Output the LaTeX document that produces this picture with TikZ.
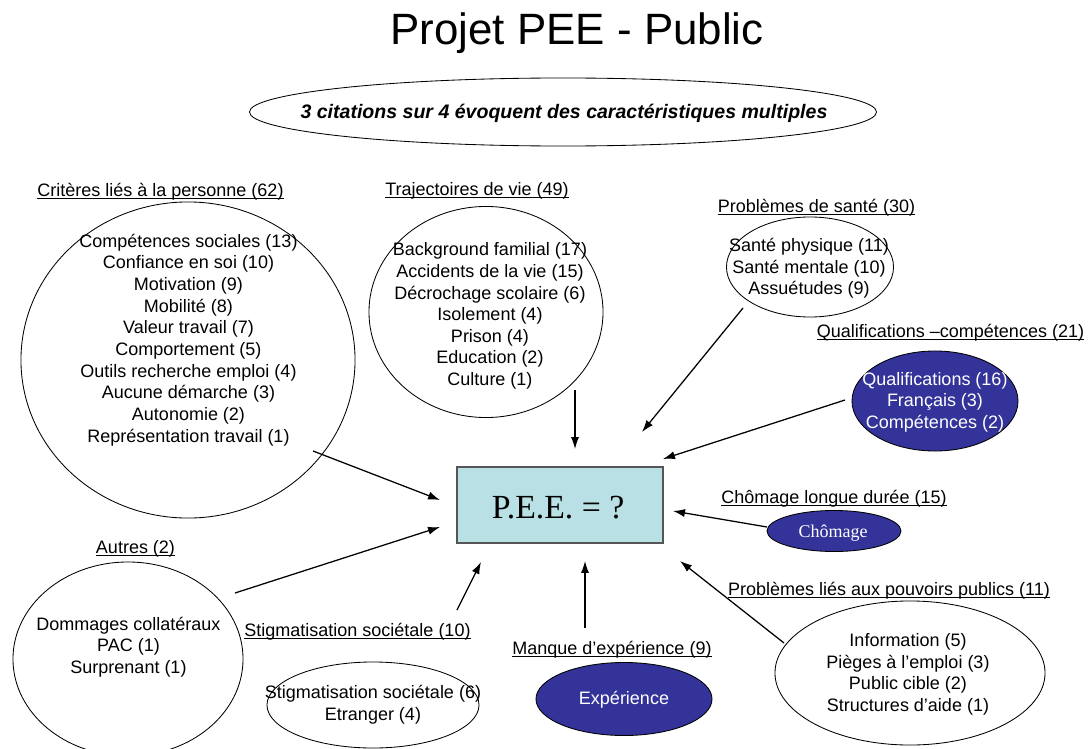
\documentclass[tikz,border=0pt]{standalone}
\usepackage{fontspec}
\setmainfont{Liberation Sans}
\newfontfamily\timesfont{Liberation Serif}
\usetikzlibrary{arrows.meta,shapes.geometric}

\definecolor{peeblue}{HTML}{333399}
\definecolor{peecyan}{HTML}{B9E0E4}
\definecolor{peegray}{HTML}{555555}

\newlength\ulwd
\newcommand\ulined[1]{\settowidth{\ulwd}{#1}\rlap{\rule[-2.3pt]{\ulwd}{0.9pt}}#1}

\begin{document}
\begin{tikzpicture}[x=0.025cm,y=-0.025cm,
  bubble/.style={draw,ellipse,line width=0.6pt,inner sep=0pt},
  darkbubble/.style={bubble,fill=peeblue},
  items/.style={align=center,inner sep=0pt,font=\fontsize{12.8}{15.4}\selectfont},
  heading/.style={anchor=base,inner sep=0pt,font=\fontsize{12.8}{15.4}\selectfont},
  arr/.style={-{Latex[length=8.5pt,width=5.8pt]},line width=0.9pt}]

\useasboundingbox (0,0) rectangle (1092,749);

%% title
\node[anchor=base,inner sep=0pt,font=\fontsize{31.2}{36}\selectfont] (title) at (577,45) {Projet PEE - Public};
\node[bubble,minimum width=15.675cm,minimum height=1.7cm] (summary) at (563,112) {};
\node[anchor=base,inner sep=0pt,font=\fontsize{13.9}{16}\selectfont\bfseries\itshape] (summarytext) at (564,118)
  {3 citations sur 4 évoquent des caractéristiques multiples};

%% centre
\node[draw=peegray,line width=1.2pt,fill=peecyan,minimum width=5.15cm,minimum height=1.9cm,inner sep=0pt] (pee) at (560,505) {};
\node[anchor=base,inner sep=0pt,font=\timesfont\fontsize{24}{28}\selectfont] (peetext) at (558,518) {P.E.E. = ?};

%% bubbles
\node[bubble,minimum width=8.35cm,minimum height=7.9cm] (crit) at (188,360) {};
\node[bubble,minimum width=5.85cm,minimum height=5.275cm] (traj) at (486,312) {};
\node[bubble,minimum width=4.175cm,minimum height=2.5cm] (sante) at (810,267) {};
\node[darkbubble,minimum width=4.15cm,minimum height=2.5cm] (qualif) at (935,401) {};
\node[darkbubble,minimum width=3.35cm,minimum height=1.025cm] (chom) at (834,531) {};
\node[bubble,minimum width=6.75cm,minimum height=3.6cm] (pouv) at (910,673) {};
\node[darkbubble,minimum width=4.4cm,minimum height=1.825cm] (exper) at (624,699) {};
\node[bubble,minimum width=5.3cm,minimum height=2.15cm] (stig) at (373,705) {};
\node[bubble,minimum width=5.75cm,minimum height=4.85cm] (autres) at (128,659) {};

%% lists
\node[items] (critlist) at (188.5,340) {Compétences sociales (13)\\Confiance en soi (10)\\Motivation (9)\\Mobilité (8)\\Valeur travail (7)\\Comportement (5)\\Outils recherche emploi (4)\\Aucune démarche (3)\\Autonomie (2)\\Représentation travail (1)};
\node[items] (trajlist) at (490,316) {Background familial (17)\\Accidents de la vie (15)\\Décrochage scolaire (6)\\Isolement (4)\\Prison (4)\\Education (2)\\Culture (1)};
\node[items] (santelist) at (809,268.5) {Santé physique (11)\\Santé mentale (10)\\Assuétudes (9)};
\node[items,text=white] (qualiflist) at (935,402) {Qualifications (16)\\Français (3)\\Compétences (2)};
\node[anchor=base,inner sep=0pt,text=white,font=\timesfont\fontsize{12.8}{15.4}\selectfont] (chomtext) at (833,537) {Chômage};
\node[items] (pouvlist) at (908,674.5) {Information (5)\\Pièges à l’emploi (3)\\Public cible (2)\\Structures d’aide (1)};
\node[items,text=white] (expertext) at (624,700) {Expérience};
\node[items] (stiglist) at (373,705) {Stigmatisation sociétale (6)\\Etranger (4)};
\node[items] (autreslist) at (128.5,647) {Dommages collatéraux\\PAC (1)\\Surprenant (1)};

%% headings
\node[heading] (critlab) at (160.5,196) {\ulined{Critères liés à la personne (62)}};
\node[heading] (trajlab) at (477,195) {\ulined{Trajectoires de vie (49)}};
\node[heading] (santelab) at (816.5,212) {\ulined{Problèmes de santé (30)}};
\node[heading] (qualiflab) at (950.5,337) {\ulined{Qualifications –compétences (21)}};
\node[heading] (chomlab) at (834,503) {\ulined{Chômage longue durée (15)}};
\node[heading] (pouvlab) at (889,595) {\ulined{Problèmes liés aux pouvoirs publics (11)}};
\node[heading] (experlab) at (612,654) {\ulined{Manque d’expérience (9)}};
\node[heading] (autreslab) at (135.5,553) {\ulined{Autres (2)}};
\node[heading] (stiglab) at (357.5,636) {\ulined{Stigmatisation sociétale (10)}};

%% arrow ends
\coordinate (critfrom) at (313,451);   \coordinate (critto) at (440,500);
\coordinate (trajfrom) at (575,390);   \coordinate (trajto) at (575,449);
\coordinate (santefrom) at (743,308);  \coordinate (santeto) at (642,432);
\coordinate (qualiffrom) at (845,400); \coordinate (qualifto) at (663,459);
\coordinate (chomfrom) at (767,527);   \coordinate (chomto) at (673,511);
\coordinate (pouvfrom) at (784,643);   \coordinate (pouvto) at (680,561);
\coordinate (experfrom) at (585,628);  \coordinate (experto) at (585,561);
\coordinate (stigfrom) at (457,610);   \coordinate (stigto) at (481,562);
\coordinate (autresfrom) at (235,593); \coordinate (autresto) at (440,527);

%% arrows
\draw[arr] (critfrom) -- (critto);
\draw[arr] (trajfrom) -- (trajto);
\draw[arr] (santefrom) -- (santeto);
\draw[arr] (qualiffrom) -- (qualifto);
\draw[arr] (chomfrom) -- (chomto);
\draw[arr] (pouvfrom) -- (pouvto);
\draw[arr] (experfrom) -- (experto);
\draw[arr] (stigfrom) -- (stigto);
\draw[arr] (autresfrom) -- (autresto);

\end{tikzpicture}
\end{document}
